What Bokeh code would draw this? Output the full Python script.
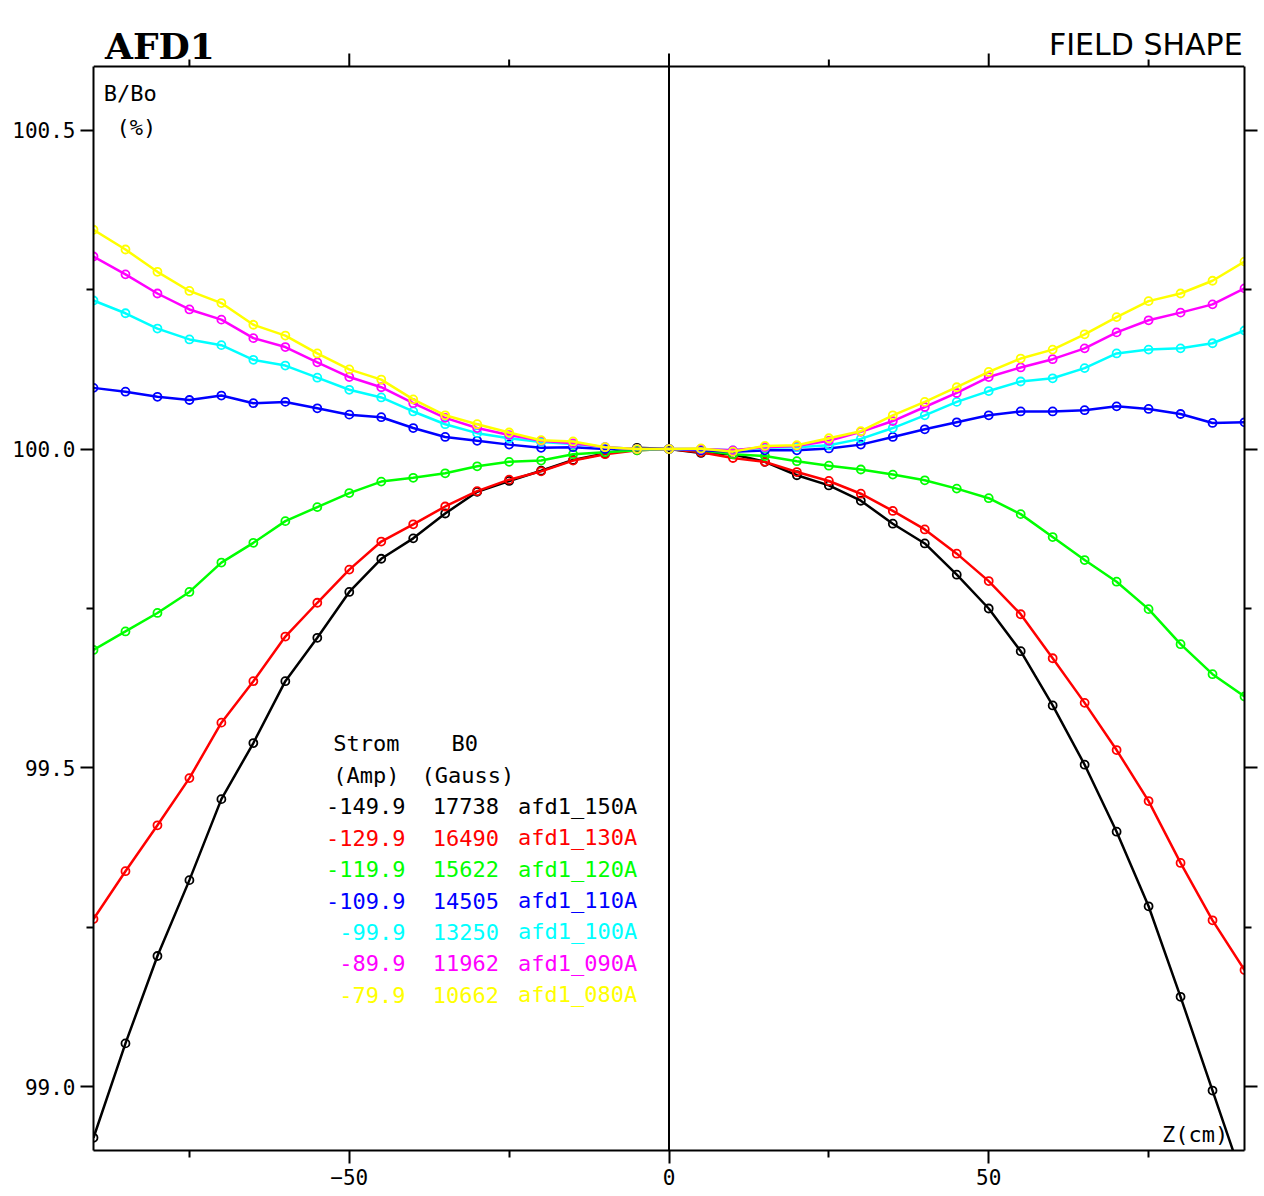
from bokeh.plotting import figure
from bokeh.models import Range1d, LinearAxis, FixedTicker, Span, Label, ColumnDataSource, PrintfTickFormatter
from bokeh.core.properties import value
from bokeh.embed import file_html
from bokeh.resources import INLINE

# ---------------- data ----------------
z = list(range(-90, 95, 5))

black = [98.920, 99.068, 99.205, 99.324, 99.451, 99.539, 99.636, 99.704, 99.776, 99.828,
         99.860, 99.899, 99.933, 99.950, 99.966, 99.983, 99.993, 100.002, 100.000,
         99.994, 99.992, 99.980, 99.959, 99.943, 99.919, 99.883, 99.852, 99.803, 99.750,
         99.683, 99.598, 99.505, 99.400, 99.283, 99.141, 98.994, 98.847]
red = [99.263, 99.338, 99.410, 99.484, 99.571, 99.636, 99.706, 99.759, 99.811, 99.855,
       99.882, 99.910, 99.934, 99.952, 99.965, 99.982, 99.992, 99.998, 100.000,
       99.995, 99.986, 99.980, 99.964, 99.950, 99.930, 99.903, 99.874, 99.836, 99.793,
       99.741, 99.672, 99.602, 99.528, 99.448, 99.351, 99.261, 99.183]
green = [99.685, 99.714, 99.743, 99.776, 99.822, 99.853, 99.887, 99.909, 99.931, 99.949,
         99.955, 99.962, 99.973, 99.980, 99.982, 99.992, 99.995, 99.998, 100.000,
         99.998, 99.992, 99.989, 99.981, 99.974, 99.968, 99.960, 99.951, 99.938, 99.923,
         99.898, 99.862, 99.826, 99.792, 99.749, 99.694, 99.647, 99.612]
blue = [100.096, 100.090, 100.082, 100.077, 100.084, 100.072, 100.074, 100.064, 100.054, 100.050,
        100.033, 100.019, 100.013, 100.007, 100.002, 100.003, 100.000, 100.000, 100.000,
        99.998, 99.996, 99.998, 99.998, 100.001, 100.007, 100.019, 100.031, 100.042, 100.053,
        100.059, 100.059, 100.061, 100.067, 100.063, 100.055, 100.041, 100.042]
cyan = [100.233, 100.213, 100.189, 100.172, 100.163, 100.140, 100.131, 100.112, 100.093, 100.081,
        100.059, 100.039, 100.025, 100.017, 100.011, 100.008, 100.003, 100.000, 100.000,
        100.000, 99.998, 100.002, 100.003, 100.006, 100.016, 100.033, 100.053, 100.074, 100.091,
        100.106, 100.111, 100.127, 100.150, 100.156, 100.158, 100.166, 100.186]
magenta = [100.302, 100.274, 100.244, 100.219, 100.203, 100.174, 100.160, 100.136, 100.113, 100.097,
           100.072, 100.049, 100.033, 100.022, 100.013, 100.009, 100.003, 100.000, 100.000,
           100.000, 99.998, 100.003, 100.005, 100.013, 100.027, 100.044, 100.066, 100.088, 100.113,
           100.128, 100.141, 100.158, 100.183, 100.202, 100.214, 100.227, 100.252]
yellow = [100.344, 100.313, 100.278, 100.248, 100.229, 100.195, 100.178, 100.150, 100.125, 100.109,
          100.078, 100.053, 100.039, 100.026, 100.014, 100.012, 100.003, 100.000, 100.000,
          100.001, 99.996, 100.005, 100.006, 100.017, 100.028, 100.053, 100.074, 100.097, 100.121,
          100.142, 100.156, 100.180, 100.207, 100.232, 100.244, 100.264, 100.294]

series = [black, red, green, blue, cyan, magenta, yellow]
colors = ["#000000", "#ff0000", "#00ff00", "#0000ff", "#00ffff", "#ff00ff", "#ffff00"]

strom = ["-149.9", "-129.9", "-119.9", "-109.9", "-99.9", "-89.9", "-79.9"]
b0 = ["17738", "16490", "15622", "14505", "13250", "11962", "10662"]
names = ["afd1_150A", "afd1_130A", "afd1_120A", "afd1_110A", "afd1_100A", "afd1_090A", "afd1_080A"]

x_major = [-50, 0, 50]
x_minor = [-75, -25, 25, 75]
y_major = [99.0, 99.5, 100.0, 100.5]
y_minor = [99.25, 99.75, 100.25]

X_LO, X_HI = -90, 90
Y_LO, Y_HI = 98.9, 100.6

MONO = "DejaVu Sans Mono"

# ---------------- geometry ----------------
PLOT_H = 1084            # height (px) of the boxed plot region
HEAD = 56                # px above the box that holds the titles (inside the frame)
PPU = PLOT_H / (Y_HI - Y_LO)
Y_END = Y_HI + HEAD / PPU

p = figure(frame_width=1151, frame_height=PLOT_H + HEAD,
           x_range=Range1d(X_LO, X_HI), y_range=Range1d(Y_LO, Y_END),
           output_backend="svg", toolbar_location=None, title=None,
           min_border_left=93, min_border_right=18, min_border_top=10, min_border_bottom=42)
p.xgrid.visible = False
p.ygrid.visible = False
p.outline_line_color = None
p.background_fill_color = "white"
p.border_fill_color = "white"


def style_axis(ax, major, minor, labels=True, fmt=None, bounds=None):
    ax.ticker = FixedTicker(ticks=major, minor_ticks=minor)
    ax.axis_line_color = "black"
    ax.axis_line_width = 2
    ax.major_tick_in = 0
    ax.major_tick_out = 13
    ax.minor_tick_in = 0
    ax.minor_tick_out = 7
    ax.major_tick_line_width = 2
    ax.minor_tick_line_width = 2
    ax.major_tick_line_color = "black"
    ax.minor_tick_line_color = "black"
    if bounds is not None:
        ax.bounds = bounds
    if fmt is not None:
        ax.formatter = fmt
    if labels:
        ax.major_label_text_font = MONO
        ax.major_label_text_font_size = "21px"
        ax.major_label_text_color = "black"
        ax.major_label_standoff = 5
    else:
        ax.major_label_overrides = {t: "" for t in major}
        ax.major_label_text_font_size = "0px"
        ax.major_label_standoff = 0


style_axis(p.xaxis[0], x_major, x_minor)
style_axis(p.yaxis[0], y_major, y_minor, fmt=PrintfTickFormatter(format="%.1f"), bounds=(Y_LO, Y_HI))
right = LinearAxis()
style_axis(right, y_major, y_minor, labels=False, bounds=(Y_LO, Y_HI))
p.add_layout(right, "right")

# top edge of the box and its outward ticks
p.add_layout(Span(location=Y_HI, dimension="width", line_color="black", line_width=2))
p.segment(x0=x_major, y0=[Y_HI] * len(x_major), x1=x_major, y1=[Y_HI + 13 / PPU] * len(x_major),
          line_color="black", line_width=2)
p.segment(x0=x_minor, y0=[Y_HI] * len(x_minor), x1=x_minor, y1=[Y_HI + 7 / PPU] * len(x_minor),
          line_color="black", line_width=2)

# vertical line at z = 0 inside the box
p.segment(x0=[0], y0=[Y_LO], x1=[0], y1=[Y_HI], line_color="black", line_width=2)

for ys, c in zip(series, colors):
    src = ColumnDataSource(dict(x=z, y=ys))
    p.line("x", "y", source=src, line_color=c, line_width=2.5)
    p.scatter("x", "y", source=src, marker="circle", size=8, fill_color=None,
              line_color=c, line_width=1.8)

# ---------------- texts ----------------
p.add_layout(Label(x=-88.2, y=Y_HI + 21 / PPU, text="AFD1", text_font="DejaVu Serif",
                   text_font_style="bold", text_font_size="36px", text_color="black",
                   text_baseline="alphabetic", text_align="left"))
p.add_layout(Label(x=89.7, y=Y_HI + 22 / PPU, text="FIELD SHAPE", text_font="DejaVu Sans",
                   text_font_size="30px", text_color="black",
                   text_baseline="alphabetic", text_align="right"))
p.add_layout(Label(x=-88.4, y=100.557, text="B/Bo", text_font=MONO, text_color="black",
                   text_font_size="22px", text_baseline="middle", text_align="left"))
p.add_layout(Label(x=-86.4, y=100.504, text="(%)", text_font=MONO, text_color="black",
                   text_font_size="22px", text_baseline="middle", text_align="left"))
p.add_layout(Label(x=77.1, y=98.925, text="Z(cm)", text_font=MONO, text_color="black",
                   text_font_size="22px", text_baseline="middle", text_align="left"))

leg_top = 99.538
leg_step = 0.0492
for tx, xx, row in [("Strom", -52.5, 0), ("(Amp)", -52.5, 1), ("B0", -34.0, 0), ("(Gauss)", -38.7, 1)]:
    p.add_layout(Label(x=xx, y=leg_top - leg_step * row, text=tx, text_font=MONO,
                       text_font_size="22px", text_color="black",
                       text_baseline="middle", text_align="left"))

rows_y = [leg_top - leg_step * (i + 2) for i in range(len(strom))]
leg = ColumnDataSource(dict(y=rows_y, strom=strom, b0=b0, names=names, color=colors,
                            x1=[-41.2] * len(strom), x2=[-26.6] * len(strom), x3=[-23.6] * len(strom)))
p.text(x="x1", y="y", text="strom", source=leg, text_color="color", text_font=value(MONO),
       text_font_size="22px", text_align="right", text_baseline="middle")
p.text(x="x2", y="y", text="b0", source=leg, text_color="color", text_font=value(MONO),
       text_font_size="22px", text_align="right", text_baseline="middle")
p.text(x="x3", y="y", text="names", source=leg, text_color="color", text_font=value(MONO),
       text_font_size="22px", text_align="left", text_baseline="middle")

open("out.html", "w").write(file_html(p, INLINE))
